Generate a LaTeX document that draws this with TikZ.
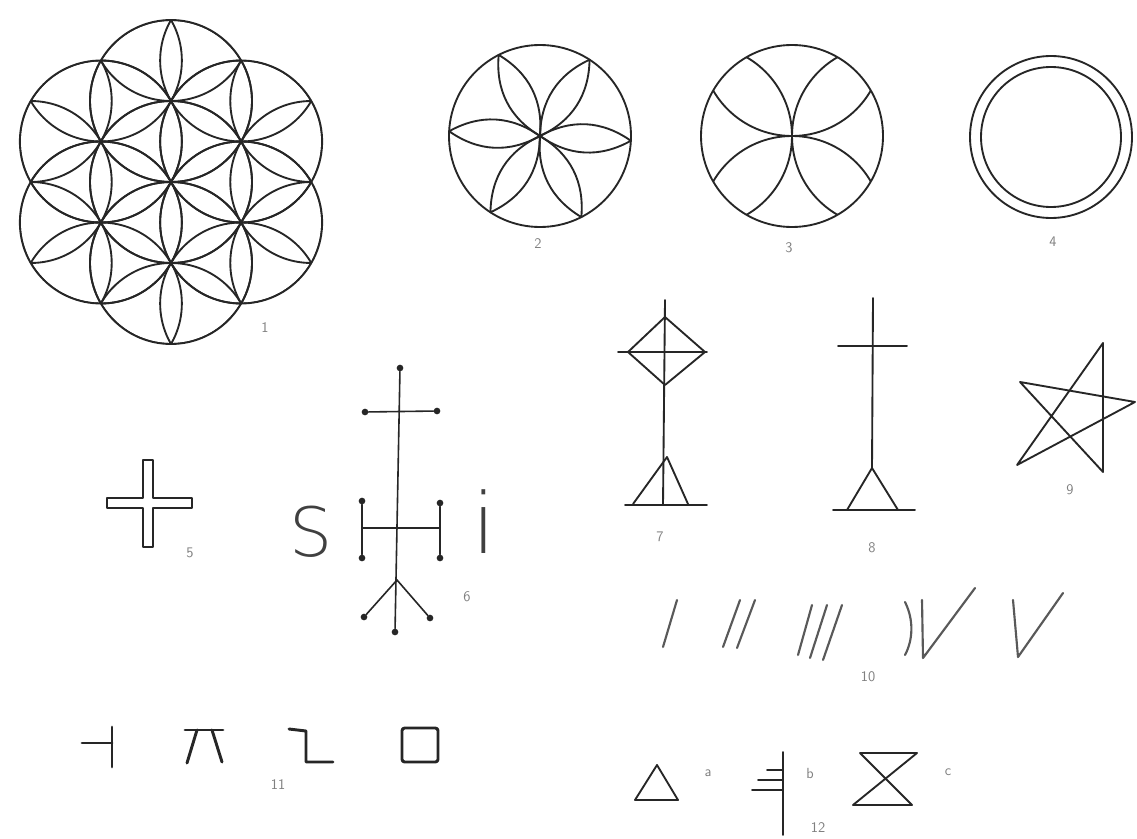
\documentclass[tikz,border=0pt]{standalone}
\usepackage{fontspec}
\usepackage{tikz}
\usetikzlibrary{calc}
\IfFontExistsTF{DejaVu Sans ExtraLight}
  {\newfontfamily\thinsans{DejaVu Sans ExtraLight}}
  {\newcommand\thinsans{\sffamily}}

\begin{document}
\begin{tikzpicture}[x=0.75pt,y=-0.75pt,line join=round,line cap=round,
  glyph/.style={line width=1.4pt,black!85},
  soft/.style={line width=1.6pt,black!65},
  heavy/.style={line width=2.2pt,black!85},
  knob/.style={circle,fill=black!85,inner sep=0pt,minimum size=5pt},
  tag/.style={font=\sffamily\fontsize{11}{12}\selectfont,text=black!50,inner sep=0pt}]
\useasboundingbox[fill=white] (0,0) rectangle (1137,838);

% 1 -- seven circles, each with its rosette (19 circles clipped)
\begin{scope}[shift={(171,182)}]
  \def\rr{81}
  \begin{scope}
    \clip (0,0) circle (\rr) \foreach \a in {30,90,...,330}{(\a:\rr) circle (\rr)};
    \foreach \i in {-2,...,2}
      \foreach \j in {-2,...,2}{
        \pgfmathtruncatemacro\dd{\i*\i+\j*\j+\i*\j}
        \ifnum\dd<5
          \draw[glyph] ({\i*0.866*\rr},{(\i*0.5+\j)*\rr}) circle (\rr);
        \fi}
  \end{scope}
  \draw[glyph] (0,0) circle (\rr);
  \foreach \a in {30,90,...,330}
    \draw[glyph] (\a:\rr) circle (\rr);
\end{scope}
\node[tag] (n1) at (265,328) {1};

% 2 -- six petals
\begin{scope}[shift={(540,136)}]
  \draw[glyph] (0,0) circle (91);
  \foreach \a in {3,63,...,303}
    \draw[glyph] (0,0) to[bend left=32] (\a:91) to[bend left=32] (0,0);
\end{scope}
\node[tag] (n2) at (538,244) {2};

% 3 -- four arcs
\begin{scope}[shift={(792,136)}]
  \draw[glyph] (0,0) circle (91);
  \clip (0,0) circle (91);
  \foreach \a in {0,90,180,270}
    \draw[glyph] (\a:91) circle (91);
\end{scope}
\node[tag] (n3) at (789,248) {3};

% 4 -- double ring
\draw[glyph] (1051,137) circle (81);
\draw[glyph] (1051,137) circle (70);
\node[tag] (n4) at (1053,242) {4};

% 5 -- hollow cross
\draw[glyph,line width=1.2pt] (143,460) -- (153,460) -- (153,498) -- (192,498) -- (192,508)
  -- (153,508) -- (153,547) -- (143,547) -- (143,508) -- (107,508) -- (107,498)
  -- (143,498) -- cycle;
\node[tag] (n5) at (190,553) {5};

% 6 -- S H i with dotted staff
\node[knob] (top6) at (400,368) {};
\node[knob] (barl) at (365,412) {};
\node[knob] (barr) at (437,411) {};
\node[knob] (hlt) at (362,501) {};
\node[knob] (hlb) at (362,558) {};
\node[knob] (hrt) at (440,503) {};
\node[knob] (hrb) at (440,558) {};
\node[knob] (forkl) at (364,617) {};
\node[knob] (forkr) at (430,618) {};
\node[knob] (bot6) at (395,632) {};
\coordinate (fork) at (397,580);
\coordinate (hl) at (362,528);
\coordinate (hr) at (440,528);
\draw[glyph,line width=1.2pt] (top6) -- (bot6);
\draw[glyph,line width=1.2pt] (barl) -- (barr);
\draw[glyph,line width=1.2pt] (hlt) -- (hlb);
\draw[glyph,line width=1.2pt] (hrt) -- (hrb);
\draw[glyph,line width=1.2pt] (hl) -- (hr);
\draw[glyph,line width=1.2pt] (fork) -- (forkl);
\draw[glyph,line width=1.2pt] (fork) -- (forkr);
\node[font=\thinsans\fontsize{51}{60}\selectfont,text=black!75,inner sep=0pt] (s6) at (311,532) {S};
\node[font=\thinsans\fontsize{63}{70}\selectfont,text=black!75,inner sep=0pt,anchor=base] (i6) at (484,553) {i};
\node[tag] (n6) at (467,597) {6};

% 7 -- diamond staff
\coordinate (dt) at (665,317);
\coordinate (dr) at (705,352);
\coordinate (db) at (665,385);
\coordinate (dl) at (628,352);
\coordinate (ap7) at (667,457);
\draw[glyph] (665,300) -- (663,505);
\draw[glyph] (dt) -- (dr) -- (db) -- (dl) -- cycle;
\draw[glyph] (618,352) -- (707,352);
\draw[glyph] (633,504) -- (ap7) -- (688,504);
\draw[glyph] (625,505) -- (707,505);
\node[tag] (n7) at (660,537) {7};

% 8 -- cross on a tripod
\coordinate (ap8) at (872,468);
\draw[glyph] (873,298) -- (ap8);
\draw[glyph] (838,346) -- (907,346);
\draw[glyph] (847,510) -- (ap8) -- (898,510);
\draw[glyph] (833,510) -- (915,510);
\node[tag] (n8) at (872,548) {8};

% 9 -- pentagram
\coordinate (pt) at (1103,343);
\coordinate (pl) at (1020,382);
\coordinate (pr) at (1135,402);
\coordinate (pbl) at (1017,465);
\coordinate (pbr) at (1103,472);
\draw[glyph] (pt) -- (pbl) -- (pr) -- (pl) -- (pbr) -- cycle;
\node[tag] (n9) at (1070,490) {9};

% 10 -- tally strokes
\draw[soft] (677,600) -- (663,647);
\draw[soft] (740,600) -- (723,647);
\draw[soft] (755,600) -- (737,648);
\draw[soft] (812,605) -- (798,655);
\draw[soft] (827,605) -- (810,658);
\draw[soft] (842,605) -- (823,660);
\draw[soft] (905,602) .. controls (914,620) and (913,640) .. (905,655);
\draw[soft] (922,600) -- (923,658) -- (975,588);
\draw[soft] (1013,600) -- (1018,657) -- (1063,593);
\node[tag] (n10) at (868,677) {10};

% 11 -- four signs
\draw[heavy] (112,727) -- (112,767);
\draw[heavy] (82,743) -- (112,743);
\draw[heavy] (185,730) -- (223,730);
\draw[heavy] (197,730) -- (187,763);
\draw[heavy] (212,730) -- (222,762);
\draw[heavy] (289,729) -- (306,731) -- (306,762) -- (333,762);
\draw[heavy,rounded corners=2pt] (402,728) rectangle (438,762);
\node[tag] (n11) at (278,785) {11};

% 12 -- a, b, c
\draw[glyph] (657,765) -- (678,800) -- (635,800) -- cycle;
\node[tag] (na) at (708,773) {a};
\draw[glyph] (783,752) -- (783,835);
\draw[glyph] (767,770) -- (783,770);
\draw[glyph] (758,780) -- (783,780);
\draw[glyph] (752,790) -- (783,790);
\node[tag] (nb) at (810,773) {b};
\node[tag] (n12) at (818,828) {12};
\draw[glyph] (860,753) -- (917,753) -- (853,805) -- (912,805) -- cycle;
\node[tag] (nc) at (948,772) {c};
\end{tikzpicture}
\end{document}
